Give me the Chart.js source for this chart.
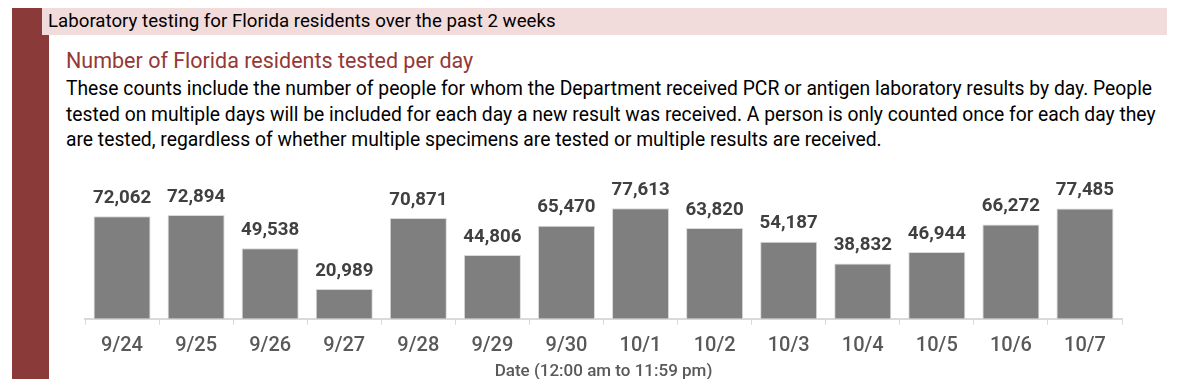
<!DOCTYPE html>
<html>
<head>
<meta charset="utf-8">
<script src="https://cdn.jsdelivr.net/npm/chart.js@4"></script>
<style>
  html, body { margin: 0; padding: 0; background: #fff; }
  body { width: 1200px; height: 379px; position: relative; overflow: hidden; font-family: Roboto, "Noto Sans", sans-serif; }
  #sidebar { position: absolute; left: 12px; top: 8px; width: 37px; height: 371px; background: #8b3a3a; }
  #band { position: absolute; left: 42px; top: 8px; width: 1125px; height: 27px; background: #f2dcdb; }
  #band span { position: absolute; left: 6px; top: 2px; font-size: 18.7px; color: #000; white-space: nowrap; }
  #sub { position: absolute; left: 66px; top: 48px; font-size: 21.5px; color: #953735; white-space: nowrap; }
  #para { position: absolute; left: 66px; top: 76px; font-size: 19.3px; line-height: 25.5px; color: #000; white-space: nowrap; }
  #wrap { position: absolute; left: 0; top: 150px; width: 1200px; height: 240px; }
</style>
</head>
<body>
<div id="sidebar"></div>
<div id="band"><span>Laboratory testing for Florida residents over the past 2 weeks</span></div>
<div id="sub">Number of Florida residents tested per day</div>
<div id="para">These counts include the number of people for whom the Department received PCR or antigen laboratory results by day. People<br>tested on multiple days will be included for each day a new result was received. A person is only counted once for each day they<br>are tested, regardless of whether multiple specimens are tested or multiple results are received.</div>
<div id="wrap"><canvas id="c"></canvas></div>
<script>
const categories = ["9/24","9/25","9/26","9/27","9/28","9/29","9/30","10/1","10/2","10/3","10/4","10/5","10/6","10/7"];
const testedPerDay = [72062,72894,49538,20989,70871,44806,65470,77613,63820,54187,38832,46944,66272,77485];
const axisTitle = "Date (12:00 am to 11:59 pm)";

const valueLabels = {
  id: 'valueLabels',
  afterDatasetsDraw(chart) {
    const ctx = chart.ctx;
    const meta = chart.getDatasetMeta(0);
    ctx.save();
    ctx.font = 'bold 18.7px Roboto';
    ctx.fillStyle = '#404040';
    ctx.textAlign = 'center';
    ctx.textBaseline = 'middle';
    meta.data.forEach((bar, i) => {
      ctx.fillText(testedPerDay[i].toLocaleString('en-US'), bar.x, bar.y - 18);
    });
    ctx.restore();
  }
};

new Chart(document.getElementById('c'), {
  type: 'bar',
  data: {
    labels: categories,
    datasets: [{
      data: testedPerDay,
      backgroundColor: '#7f7f7f',
      borderColor: '#d9d9d9',
      borderWidth: 1,
      categoryPercentage: 1,
      barPercentage: 0.77
    }]
  },
  options: {
    responsive: true,
    maintainAspectRatio: false,
    animation: false,
    layout: { padding: { left: 85, right: 78, top: 26.5, bottom: 7.8 } },
    plugins: { legend: { display: false }, tooltip: { enabled: false } },
    scales: {
      y: { display: false, min: 0, max: 100000 },
      x: {
        grid: { display: true, drawOnChartArea: false, offset: true, color: '#d9d9d9', tickLength: 6 },
        border: { display: true, color: '#d9d9d9', width: 2 },
        ticks: { color: '#595959', font: { family: 'Roboto', size: 20, weight: '500', lineHeight: 1.2 }, padding: 9 },
        title: { display: true, text: axisTitle, color: '#595959', font: { family: 'Roboto', size: 17, weight: '500', lineHeight: 1.2 }, padding: { top: -5, bottom: 0 } }
      }
    }
  },
  plugins: [valueLabels]
});
</script>
</body>
</html>
